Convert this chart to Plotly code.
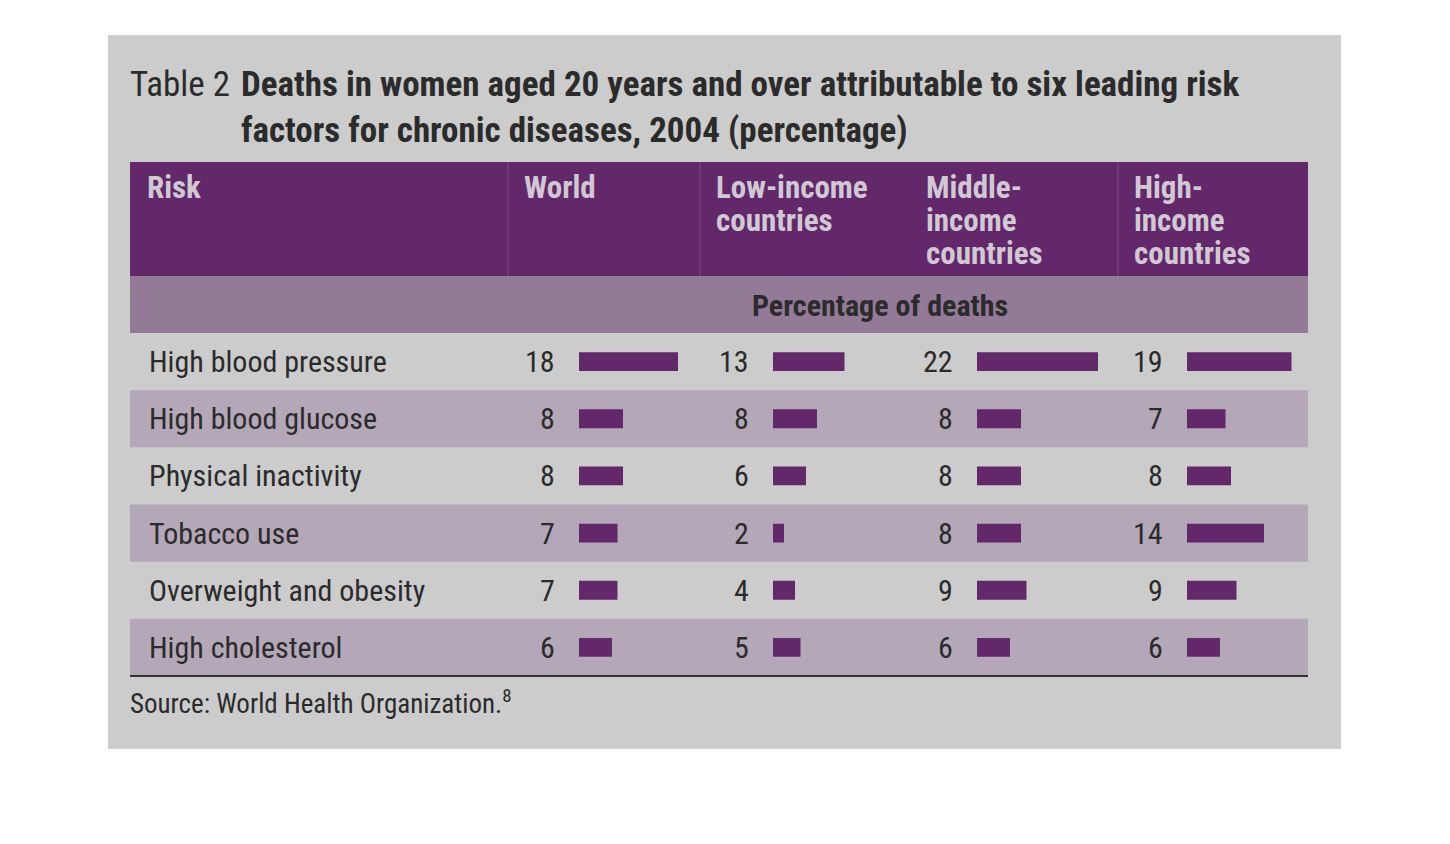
import plotly.graph_objects as go

risks = ["High blood pressure", "High blood glucose", "Physical inactivity", "Tobacco use",
         "Overweight and obesity", "High cholesterol"]
columns = ["World", "Low-income<br>countries", "Middle-<br>income<br>countries", "High-<br>income<br>countries"]
world = [18, 8, 8, 7, 7, 6]
low_income = [13, 8, 6, 2, 4, 5]
middle_income = [22, 8, 8, 8, 9, 6]
high_income = [19, 7, 8, 14, 9, 6]
series = [world, low_income, middle_income, high_income]

W, H = 1450, 844
OFF = 8
def px(x): return (x - OFF) / W
def py(y): return 1 - (y - OFF) / H

FONT = "Liberation Sans Narrow, Roboto Condensed, Arial Narrow, Liberation Sans, sans-serif"
PURPLE = "#62286a"
HEAD = "#d0c8d2"
fig = go.Figure()
shapes = []
shapes.append(dict(type="rect", xref="paper", yref="paper", x0=px(108), x1=px(1341), y0=py(749), y1=py(35),
                   fillcolor="#cccccc", line_width=0, layer="below"))
shapes.append(dict(type="rect", xref="paper", yref="paper", x0=px(130), x1=px(1308), y0=py(276), y1=py(162),
                   fillcolor=PURPLE, line_width=0, layer="below"))
shapes.append(dict(type="rect", xref="paper", yref="paper", x0=px(130), x1=px(1308), y0=py(333), y1=py(276),
                   fillcolor="#937b98", line_width=0, layer="below"))
row_top = 333; row_h = (676 - 333) / 6
for i in range(6):
    if i % 2 == 1:
        shapes.append(dict(type="rect", xref="paper", yref="paper", x0=px(130), x1=px(1308),
                           y0=py(row_top + (i + 1) * row_h), y1=py(row_top + i * row_h),
                           fillcolor="#b3a7b8", line_width=0, layer="below"))
for xd in [508, 700, 1118]:
    shapes.append(dict(type="line", xref="paper", yref="paper", x0=px(xd), x1=px(xd), y0=py(276), y1=py(162),
                       line=dict(color="#7a4a80", width=1)))
shapes.append(dict(type="line", xref="paper", yref="paper", x0=px(130), x1=px(1308), y0=py(676), y1=py(676),
                   line=dict(color="#333333", width=2)))

bar_starts = [579, 773, 977, 1187]
col_left = [508, 700, 910, 1118]
line_y = [187, 220, 253]
unit = 5.5
ann = []
for k, (vals, xs) in enumerate(zip(series, bar_starts)):
    ax = "x" if k == 0 else f"x{k+1}"
    fig.add_trace(go.Bar(x=vals, y=list(range(6)), orientation="h", xaxis=ax, yaxis="y",
                         marker=dict(color=PURPLE, line=dict(width=0)), width=0.33,
                         hoverinfo="x", showlegend=False))
    key = "xaxis" if k == 0 else f"xaxis{k+1}"
    fig.layout[key] = dict(domain=[px(xs), px(xs + 25 * unit)], range=[0, 25], visible=False, fixedrange=True)
    for i, v in enumerate(vals):
        ann.append(dict(x=0, y=i, xref=ax, yref="y", text=str(v), showarrow=False, xanchor="right",
                        xshift=-22, font=dict(family=FONT, size=30, color="#2b2b2b")))
    for j, line in enumerate(columns[k].split("<br>")):
        ann.append(dict(x=px(col_left[k] + 14), y=py(line_y[j]), xref="paper", yref="paper",
                        text=f"<b>{line}</b>", showarrow=False, xanchor="left", yanchor="middle",
                        font=dict(family=FONT, size=31, color=HEAD)))

for i, r in enumerate(risks):
    ann.append(dict(x=px(147), y=i, xref="paper", yref="y", text=r, showarrow=False, xanchor="left",
                    font=dict(family=FONT, size=30, color="#2b2b2b")))
ann.append(dict(x=px(145), y=py(line_y[0]), xref="paper", yref="paper", text="<b>Risk</b>", showarrow=False,
                xanchor="left", yanchor="middle", font=dict(family=FONT, size=31, color=HEAD)))
ann.append(dict(x=px(880), y=py(305), xref="paper", yref="paper", text="<b>Percentage of deaths</b>",
                showarrow=False, font=dict(family=FONT, size=30, color="#2b2b2b")))
ann.append(dict(x=px(128), y=py(62), xref="paper", yref="paper", yanchor="top", text="Table 2", showarrow=False,
                xanchor="left", font=dict(family=FONT, size=35, color="#2b2b2b")))
ann.append(dict(x=px(239), y=py(62), xref="paper", yref="paper", yanchor="top", align="left",
                text="<b>Deaths in women aged 20 years and over attributable to six leading risk<br>factors for chronic diseases, 2004 (percentage)</b>",
                showarrow=False, xanchor="left", font=dict(family=FONT, size=35, color="#2b2b2b")))
ann.append(dict(x=px(128), y=py(682), xref="paper", yref="paper", yanchor="top",
                text="Source: World Health Organization.<sup>8</sup>", showarrow=False, xanchor="left",
                font=dict(family=FONT, size=27, color="#2b2b2b")))

fig.update_layout(width=W, height=H, margin=dict(l=0, r=0, t=0, b=0), paper_bgcolor="white",
                  plot_bgcolor="rgba(0,0,0,0)", shapes=shapes, annotations=ann,
                  yaxis=dict(domain=[py(676), py(333)], range=[5.5, -0.5], visible=False, fixedrange=True),
                  barmode="overlay")
fig.write_html("out.html")
